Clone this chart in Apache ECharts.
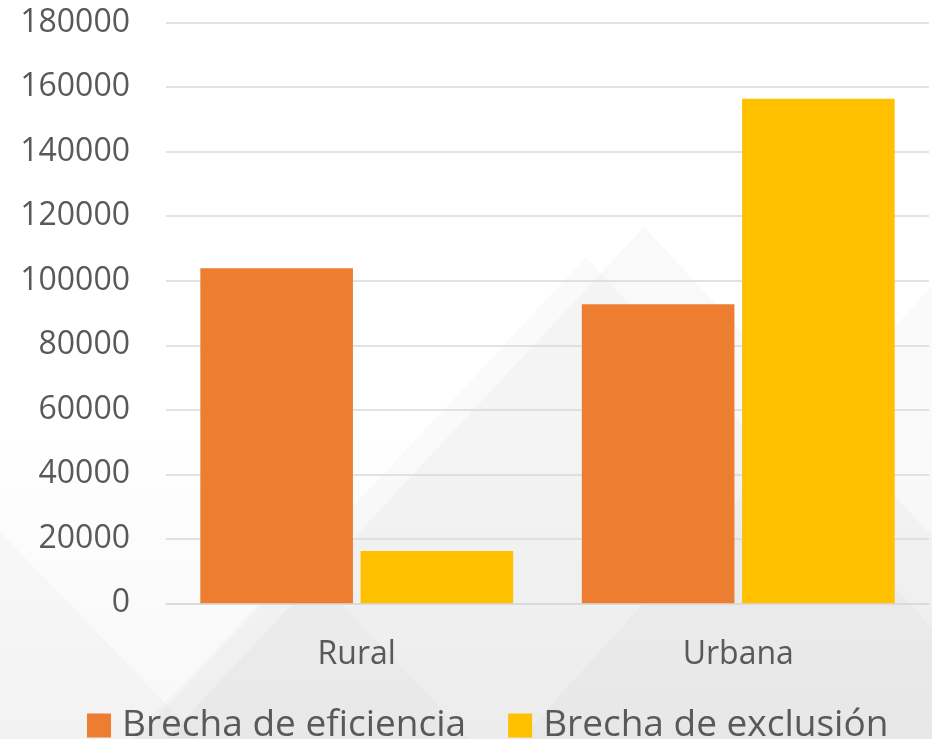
<!DOCTYPE html>
<html>
<head>
<meta charset="utf-8">
<script src="https://cdn.jsdelivr.net/npm/echarts@6/dist/echarts.min.js"></script>
<style>
  html, body { margin: 0; padding: 0; background: #fff; }
  #chart { width: 932px; height: 739px; }
</style>
</head>
<body>
<div id="chart"></div>
<script>
const categories = ['Rural', 'Urbana'];
const seriesNames = ['Brecha de eficiencia', 'Brecha de exclusión'];
const eficiencia = [103900, 92700];
const exclusion = [16200, 156400];
const colors = ['#ED7D31', '#FFC000'];

const fontFamily = '"Open Sans", "Noto Sans", sans-serif';
const textColor = '#595959';

// faint mountain watermark behind the plot
const shade = (a) => 'rgba(0,0,0,' + a + ')';
const background = [
  {
    type: 'rect',
    shape: { x: 0, y: 420, width: 932, height: 319 },
    style: {
      fill: {
        type: 'linear', x: 0, y: 0, x2: 0, y2: 1,
        colorStops: [
          { offset: 0, color: shade(0) },
          { offset: 1, color: shade(0.03) }
        ]
      }
    }
  },
  { type: 'polygon', shape: { points: [[644, 227], [1122, 739], [166, 739]] }, style: { fill: shade(0.025) } },
  { type: 'polygon', shape: { points: [[586, 257], [1036, 739], [136, 739]] }, style: { fill: shade(0.02) } },
  { type: 'polygon', shape: { points: [[1010, 200], [1500, 739], [520, 739]] }, style: { fill: shade(0.02) } },
  { type: 'polygon', shape: { points: [[-60, 470], [200, 739], [-320, 739]] }, style: { fill: shade(0.02) } },
  { type: 'polygon', shape: { points: [[300, 560], [470, 739], [130, 739]] }, style: { fill: shade(0.015) } }
].map((g) => Object.assign({ silent: true, z: -10 }, g));

const chart = echarts.init(document.getElementById('chart'));
chart.setOption({
  backgroundColor: '#fff',
  animation: false,
  color: colors,
  graphic: { elements: background },
  grid: {
    left: 166,
    right: 3,
    top: 22.7,
    bottom: 135.7,
    containLabel: false,
    outerBoundsMode: 'none'
  },
  legend: {
    left: 82,
    top: 702,
    icon: 'rect',
    itemWidth: 24,
    itemHeight: 24,
    itemGap: 42,
    data: seriesNames,
    textStyle: {
      color: textColor,
      fontFamily: fontFamily,
      fontSize: 37,
      lineHeight: 24,
      padding: [0, 0, 0, 6]
    }
  },
  xAxis: {
    type: 'category',
    data: categories,
    axisTick: { show: false },
    axisLine: { lineStyle: { color: '#d9d9d9', width: 1.5 } },
    axisLabel: {
      color: textColor,
      fontFamily: fontFamily,
      fontSize: 32,
      margin: 36
    }
  },
  yAxis: {
    type: 'value',
    min: 0,
    max: 180000,
    interval: 20000,
    axisLine: { show: false },
    axisTick: { show: false },
    axisLabel: {
      color: textColor,
      fontFamily: fontFamily,
      fontSize: 32,
      margin: 36,
      formatter: (v) => String(v)
    },
    splitLine: { lineStyle: { color: '#d9d9d9', width: 1.5 } }
  },
  series: [
    {
      name: seriesNames[0],
      type: 'bar',
      data: eficiencia,
      barGap: '5%',
      barCategoryGap: '18%'
    },
    {
      name: seriesNames[1],
      type: 'bar',
      data: exclusion,
      barGap: '5%',
      barCategoryGap: '18%'
    }
  ]
});
</script>
</body>
</html>
